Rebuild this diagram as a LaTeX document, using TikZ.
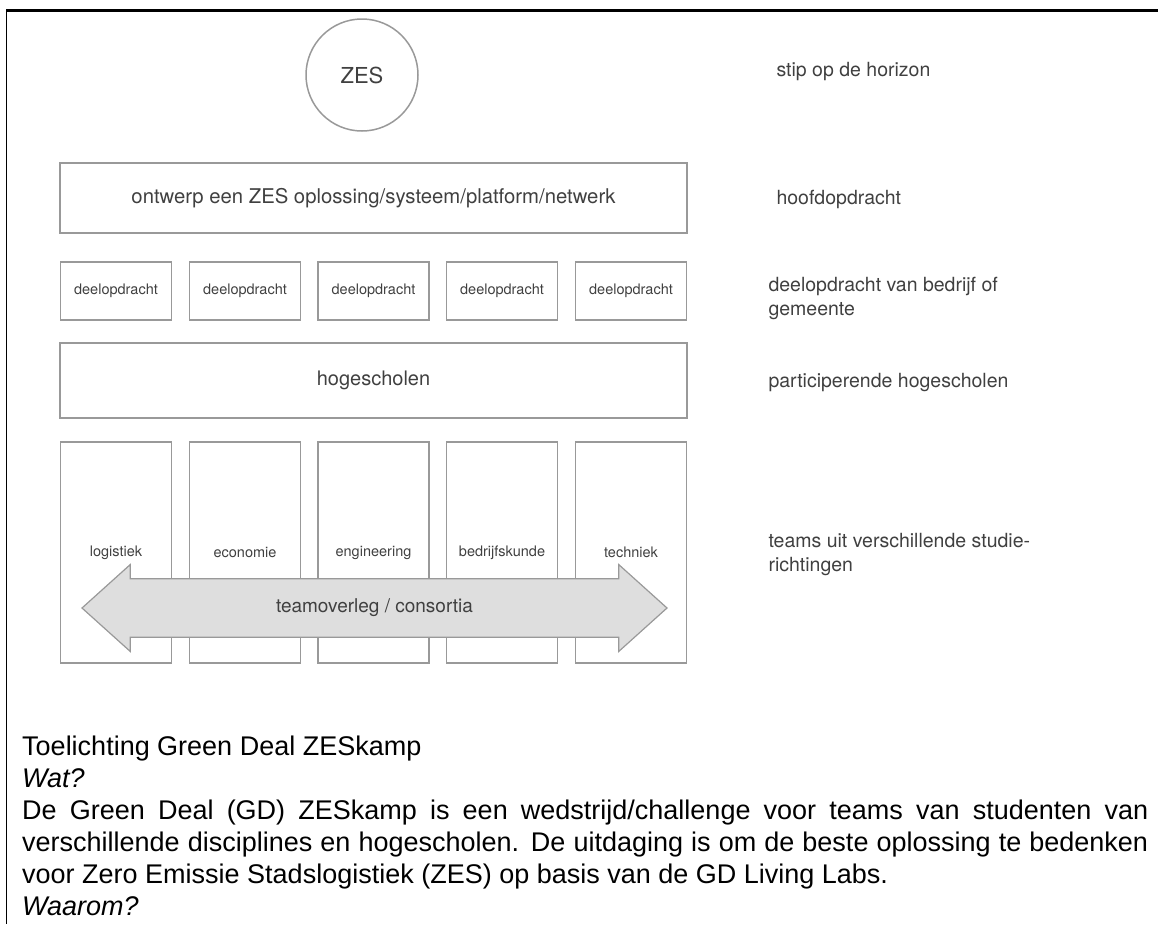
\documentclass[tikz,border=0pt]{standalone}
\usepackage{fontspec}
\setmainfont{Liberation Sans}
\newfontfamily\diafont{TeX Gyre Heros}
\usetikzlibrary{shapes.arrows}
\definecolor{lijn}{gray}{0.6}
\definecolor{tekst}{gray}{0.25}
\definecolor{pijl}{gray}{0.87}
\setlength{\parindent}{0pt}

\begin{document}
\begin{tikzpicture}[x=1pt,y=-1pt]
\useasboundingbox (0,0) rectangle (1158,924);
% kader
\draw[line width=2.7pt] (1158,10.5) -- (6,10.5);
\draw[line width=1.5pt] (6.5,9) -- (6.5,924);

\begin{scope}[every node/.style={draw=lijn,line width=1.5pt,text=tekst,
              font=\diafont\fontsize{14.5}{17}\selectfont}]
    \node[circle,minimum size=112pt,font=\diafont\fontsize{22}{26}\selectfont] (ZES) at (362,75) {ZES};
    \node[minimum width=627pt,minimum height=70pt,font=\diafont\fontsize{20.3}{24}\selectfont] (HOOFD) at (373.5,198) {ontwerp een ZES oplossing/systeem/platform/netwerk};
    % deelopdrachten
    \node[minimum width=111pt,minimum height=58pt] (D1) at (116,291) {deelopdracht};
    \node[minimum width=111pt,minimum height=58pt] (D2) at (245,291) {deelopdracht};
    \node[minimum width=111pt,minimum height=58pt] (D3) at (373.5,291) {deelopdracht};
    \node[minimum width=111pt,minimum height=58pt] (D4) at (502,291) {deelopdracht};
    \node[minimum width=111pt,minimum height=58pt] (D5) at (631,291) {deelopdracht};
    \node[minimum width=627pt,minimum height=75pt,font=\diafont\fontsize{20}{24}\selectfont] (HS) at (373.5,380.5) {hogescholen};
    % teams
    \node[minimum width=111pt,minimum height=221pt] (T1) at (116,552.5) {logistiek};
    \node[minimum width=111pt,minimum height=221pt] (T2) at (245,552.5) {economie};
    \node[minimum width=111pt,minimum height=221pt] (T3) at (373.5,552.5) {engineering};
    \node[minimum width=111pt,minimum height=221pt] (T4) at (502,552.5) {bedrijfskunde};
    \node[minimum width=111pt,minimum height=221pt] (T5) at (631,552.5) {techniek};
\end{scope}

\node[double arrow,draw=lijn,fill=pijl,line width=1.2pt,text=tekst,
      font=\diafont\fontsize{19}{22}\selectfont,
      text height=13pt,text depth=4pt,inner xsep=0pt,inner ysep=5.5pt,
      minimum height=585pt,minimum width=87pt,
      double arrow tip angle=84] (OVERLEG) at (374.5,608) {teamoverleg / consortia};

\begin{scope}[every node/.style={anchor=west,align=left,text=tekst,
              font=\diafont\fontsize{19.5}{24}\selectfont}]
    \node (STIP) at (773,72) {stip op de horizon};
    \node (OPDR) at (773,199) {hoofdopdracht};
    \node (DEEL) at (765,298) {deelopdracht van bedrijf of\\gemeente};
    \node (PART) at (765,383) {participerende hogescholen};
    \node (TEAMS) at (765,554.5) {teams uit verschillende studie-\\richtingen};
\end{scope}

% toelichting
\node[anchor=north west,inner sep=0pt,text width=1126pt,align=justify,
      font=\fontsize{27}{32}\selectfont] (UITLEG) at (22,736)
    {Toelichting Green Deal ZESkamp\par
     \textit{Wat?}\par
     De Green Deal (GD) ZESkamp is een wedstrijd/challenge voor teams van studenten van\linebreak
     verschillende disciplines en hogescholen. De uitdaging is om de beste oplossing te bedenken\linebreak
     voor Zero Emissie Stadslogistiek (ZES) op basis van de GD Living Labs.\par
     \textit{Waarom?}};
\end{tikzpicture}
\end{document}
